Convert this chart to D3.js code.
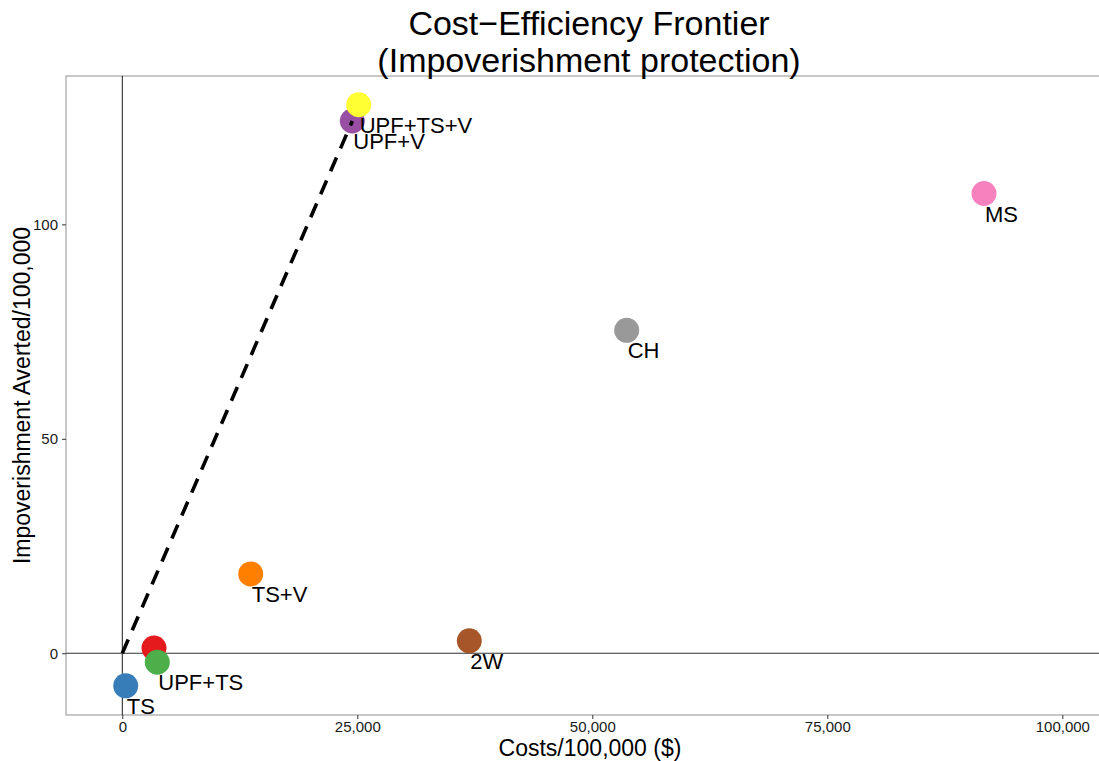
<!DOCTYPE html>
<html>
<head>
<meta charset="utf-8">
<script src="https://cdn.jsdelivr.net/npm/d3@7"></script>
<style>
  html, body { margin: 0; padding: 0; background: #fff; }
  svg { display: block; font-family: "Liberation Sans", Arial, Helvetica, sans-serif; }
</style>
</head>
<body>
<svg id="chart" width="1099" height="761"></svg>
<script>
// ---- data ----
const strategies = ["TS", "UPF", "UPF+TS", "TS+V", "2W", "CH", "MS", "UPF+V", "UPF+TS+V"];
const labels     = ["TS", "", "UPF+TS", "TS+V", "2W", "CH", "MS", "UPF+V", "UPF+TS+V"];
const costs      = [362, 3372, 3723, 13660, 36915, 53660, 91670, 24470, 25150];
const averted    = [-7.6, 1.2, -2.1, 18.5, 2.9, 75.3, 107.2, 124.1, 127.9];
const colors     = ["#377EB8", "#E41A1C", "#4DAF4A", "#FF7F00", "#A65628", "#999999", "#F781BF", "#984EA3", "#FFFF33"];
const frontier   = ["UPF+V"];           // frontier runs from origin to these strategies
const xTicks     = [0, 25000, 50000, 75000, 100000];
const yTicks     = [0, 50, 100];
const titleLines = ["Cost\u2212Efficiency Frontier", "(Impoverishment protection)"];
const xTitle     = "Costs/100,000 ($)";
const yTitle     = "Impoverishment Averted/100,000";

// ---- layout ----
const W = 1099, H = 761;
const panel = { left: 66, top: 76, right: 1099, bottom: 715 };

const svg = d3.select("#chart");

const x = d3.scaleLinear().domain([-5989, 103904]).range([panel.left, panel.right]);
const y = d3.scaleLinear().domain([-14.4, 134.6]).range([panel.bottom, panel.top]);

// panel border (left, top, bottom; right side runs off the canvas)
svg.append("rect")
  .attr("x", panel.left).attr("y", panel.top)
  .attr("width", panel.right - panel.left + 10).attr("height", panel.bottom - panel.top)
  .attr("fill", "none").attr("stroke", "#9a9a9a").attr("stroke-width", 1.1);

// zero reference lines
svg.append("line")
  .attr("x1", x(0)).attr("x2", x(0)).attr("y1", panel.top).attr("y2", panel.bottom)
  .attr("stroke", "#000").attr("stroke-width", 0.9);
svg.append("line")
  .attr("x1", panel.left).attr("x2", panel.right).attr("y1", y(0)).attr("y2", y(0))
  .attr("stroke", "#333").attr("stroke-width", 1.1);

// axes
const xAxis = d3.axisBottom(x).tickValues(xTicks).tickFormat(d3.format(",")).tickSize(4).tickPadding(2);
const gx = svg.append("g").attr("transform", `translate(0,${panel.bottom})`).call(xAxis);
gx.select(".domain").remove();
gx.selectAll(".tick line").attr("stroke", "#333");
gx.selectAll(".tick text").attr("font-size", 15).attr("fill", "#1a1a1a").attr("font-family", "Liberation Sans, Arial, sans-serif");

const yAxis = d3.axisLeft(y).tickValues(yTicks).tickSize(4).tickPadding(4);
const gy = svg.append("g").attr("transform", `translate(${panel.left},0)`).call(yAxis);
gy.select(".domain").remove();
gy.selectAll(".tick line").attr("stroke", "#333");
gy.selectAll(".tick text").attr("font-size", 15).attr("fill", "#1a1a1a").attr("font-family", "Liberation Sans, Arial, sans-serif");

// points
const data = strategies.map((s, i) => ({ s, label: labels[i], cost: costs[i], av: averted[i], color: colors[i] }));

svg.append("g").selectAll("circle").data(data).join("circle")
  .attr("cx", d => x(d.cost)).attr("cy", d => y(d.av))
  .attr("r", 12.5).attr("fill", d => d.color);

// frontier dashed line
const frontierPts = [{ cost: 0, av: 0 }].concat(data.filter(d => frontier.includes(d.s)));
svg.append("path")
  .datum(frontierPts)
  .attr("d", d3.line().x(d => x(d.cost)).y(d => y(d.av)))
  .attr("fill", "none").attr("stroke", "#000").attr("stroke-width", 3.6)
  .attr("stroke-dasharray", "15,10");

// labels
svg.append("g").selectAll("text").data(data.filter(d => d.label)).join("text")
  .attr("x", d => x(d.cost) + 1).attr("y", d => y(d.av) + 28)
  .attr("font-size", 22).attr("fill", "#000")
  .text(d => d.label);

// titles
svg.append("g").selectAll("text").data(titleLines).join("text")
  .attr("x", 589).attr("y", (d, i) => 35 + i * 37)
  .attr("text-anchor", "middle").attr("font-size", 34).attr("fill", "#000")
  .text(d => d);

svg.append("text")
  .attr("x", 590).attr("y", 756)
  .attr("text-anchor", "middle").attr("font-size", 23).attr("fill", "#000")
  .text(xTitle);

svg.append("text")
  .attr("transform", `translate(30,${(panel.top + panel.bottom) / 2}) rotate(-90)`)
  .attr("text-anchor", "middle").attr("font-size", 23).attr("fill", "#000")
  .text(yTitle);
</script>
</body>
</html>
